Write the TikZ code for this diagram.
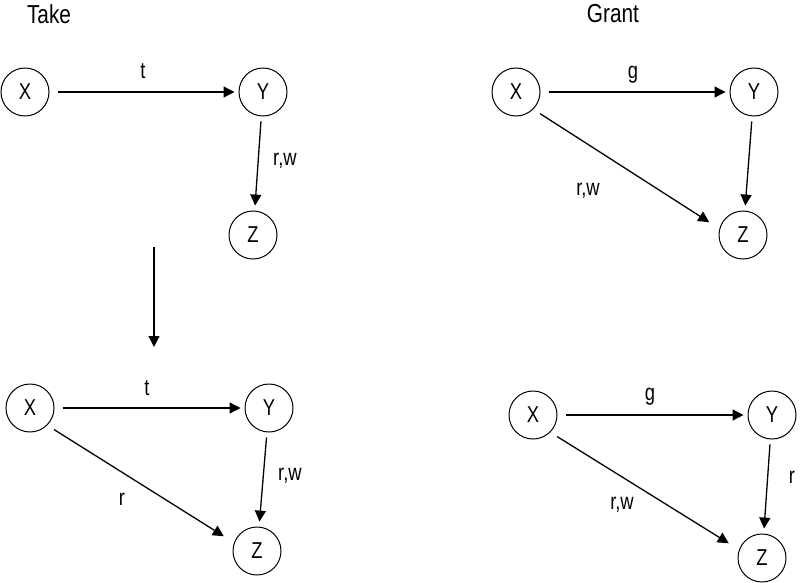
\documentclass[tikz,border=0pt]{standalone}
\usepackage{fontspec}
\setmainfont[FakeStretch=0.8]{Liberation Sans}
\usetikzlibrary{arrows.meta}

\begin{document}
\begin{tikzpicture}[x=1pt, y=-1pt, >={Triangle[length=11pt,width=11pt]},
				font=\fontsize{23}{26}\selectfont,
				ent/.style={draw, circle, line width=1pt, minimum size=48pt, inner sep=0pt},
				arr/.style={->, line width=1.3pt, shorten <=8pt, shorten >=4pt},
				diag/.style={arr, shorten >=12pt},
				down/.style={arr, shorten <=5pt, shorten >=5pt},
				ttl/.style={font=\fontsize{26}{30}\selectfont}]
				\useasboundingbox (0,0) rectangle (800,583);
				
				% titles
				\node[ttl] (taketitle) at (49,14) {Take};
				\node[ttl] (granttitle) at (613,14) {Grant};
				
				% take, before
				\node[ent] (tX) at (25,92) {X};
				\node[ent] (tY) at (263,92) {Y};
				\node[ent] (tZ) at (253,235) {Z};
				\draw[arr] (tX) -- (tY);
				\draw[down] (tY) -- (tZ);
				\node (tlblt) at (143,71) {t};
				\node (tlblrw) at (285,161) {r,w};
				
				% step
				\coordinate (steptop) at (154,247);
				\coordinate (stepbot) at (154,347);
				\draw[->, line width=1.3pt] (steptop) -- (stepbot);
				
				% take, after
				\node[ent] (tX2) at (30,408) {X};
				\node[ent] (tY2) at (269,408) {Y};
				\node[ent] (tZ2) at (257,551) {Z};
				\draw[arr] (tX2) -- (tY2);
				\draw[down] (tY2) -- (tZ2);
				\draw[diag] (tX2.-45) -- (tZ2.160);
				\node (tlblt2) at (147,388) {t};
				\node (tlblrw2) at (290,476) {r,w};
				\node (tlblr2) at (122,499) {r};
				
				% grant, before
				\node[ent] (gX) at (516,92) {X};
				\node[ent] (gY) at (754,92) {Y};
				\node[ent] (gZ) at (743,235) {Z};
				\draw[arr] (gX) -- (gY);
				\draw[down] (gY) -- (gZ);
				\draw[diag] (gX.-45) -- (gZ.165);
				\node (glblg) at (633,75) {g};
				\node (glblrw) at (588,191) {r,w};
				
				% grant, after
				\node[ent] (gX2) at (533,415) {X};
				\node[ent] (gY2) at (772,415) {Y};
				\node[ent] (gZ2) at (762,558) {Z};
				\draw[arr] (gX2) -- (gY2);
				\draw[down] (gY2) -- (gZ2);
				\draw[diag] (gX2.-45) -- (gZ2.160);
				\node (glblg2) at (650,397) {g};
				\node (glblrw2) at (622,505) {r,w};
				\node (glblr2) at (792,477) {r};
			\end{tikzpicture}
\end{document}
